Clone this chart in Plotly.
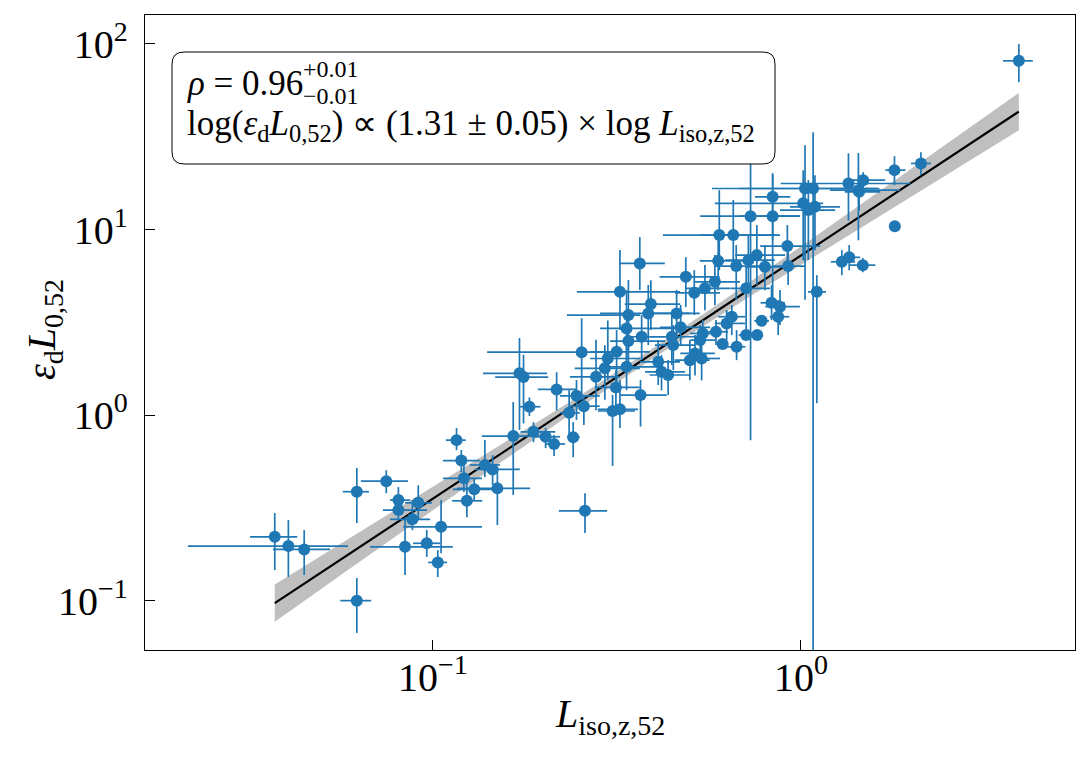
import numpy as np
import plotly.graph_objects as go

# ---- data (log10 values; errors in dex) ----
log_L_iso = [-1.430, -1.393, -1.350, -1.207, -1.207, -1.127, -1.094, -1.094, -1.056, -1.040,
             -1.076, -1.017, -0.978, -0.987, -0.936, -0.923, -0.916, -0.908, -0.888, -0.859,
             -0.838, -0.825, -0.782, -0.765, -0.754, -0.738, -0.727, -0.694, -0.671, -0.664,
             -0.630, -0.619, -0.610, -0.590, -0.587, -0.596, -0.557, -0.533, -0.525, -0.501,
             -0.492, -0.474, -0.469, -0.469, -0.474, -0.503, -0.512, -0.492, -0.436, -0.438,
             -0.408, -0.415, -0.338, -0.327, -0.433, -0.351, -0.347, -0.388, -0.379, -0.361,
             -0.302, -0.288, -0.270, -0.313, -0.290, -0.261, -0.234, -0.222, -0.184, -0.225,
             -0.176, -0.143, -0.120, -0.098, -0.149, -0.137, -0.077, -0.077, -0.037, -0.035,
             0.011, 0.033, 0.006, 0.038, 0.020, 0.043, 0.129, 0.156, 0.158, 0.169,
             0.111, 0.131, 0.168, 0.254, 0.326, 0.255, 0.592, -0.231, -0.202, -0.188,
             -0.149, -0.119, -0.107, -0.080, -0.057, -0.062, -0.213, -0.175, -0.274, -0.267]
log_epsL0 = [-0.656, -0.706, -0.724, -0.413, -1.000, -0.356, -0.458, -0.512, -0.562, -0.473,
             -0.710, -0.691, -0.602, -0.794, -0.135, -0.245, -0.341, -0.462, -0.400, -0.269,
             -0.293, -0.395, -0.113, 0.225, 0.205, 0.045, -0.090, -0.117, -0.156, 0.138,
             0.012, -0.119, 0.104, 0.048, -0.516, 0.339, 0.206, 0.252, 0.305, 0.341,
             0.664, 0.467, 0.539, 0.399, 0.260, 0.149, 0.022, 0.031, 0.108, 0.817,
             0.598, 0.548, 0.548, 0.473, 0.422, 0.422, 0.377, 0.287, 0.233, 0.216,
             0.296, 0.332, 0.305, 0.745, 0.659, 0.683, 0.718, 0.970, 0.970, 0.831,
             0.803, 0.835, 0.862, 0.799, 0.683, 1.072, 1.176, 1.072, 0.911, 0.803,
             1.221, 1.221, 1.141, 1.122, 1.105, 0.664, 1.248, 1.212, 1.203, 1.266,
             0.826, 0.850, 0.808, 1.320, 1.356, 1.018, 1.909, 0.449, 0.494, 0.530,
             0.431, 0.431, 0.508, 0.605, 0.584, 0.530, 0.383, 0.368, 0.404, 0.440]
err_x_minus = [0.067, 0.273, 0.085, 0.038, 0.045, 0.069, 0.023, 0.042, 0.061, 0.036,
               0.095, 0.037, 0.103, 0.026, 0.029, 0.050, 0.057, 0.040, 0.058, 0.041,
               0.048, 0.110, 0.085, 0.099, 0.077, 0.026, 0.035, 0.029, 0.024, 0.051,
               0.025, 0.017, 0.045, 0.038, 0.071, 0.257, 0.071, 0.082, 0.048, 0.072,
               0.117, 0.072, 0.167, 0.050, 0.072, 0.057, 0.040, 0.060, 0.055, 0.054,
               0.071, 0.131, 0.072, 0.056, 0.045, 0.059, 0.050, 0.050, 0.045, 0.050,
               0.041, 0.040, 0.032, 0.071, 0.052, 0.054, 0.054, 0.153, 0.090, 0.050,
               0.058, 0.063, 0.059, 0.054, 0.043, 0.137, 0.048, 0.089, 0.074, 0.044,
               0.253, 0.200, 0.240, 0.068, 0.077, 0.024, 0.184, 0.077, 0.039, 0.050,
               0.030, 0.025, 0.035, 0.025, 0.027, 0.000, 0.043, 0.030, 0.032, 0.037,
               0.020, 0.015, 0.020, 0.030, 0.040, 0.023, 0.015, 0.032, 0.027, 0.034]
err_x_plus = [0.061, 0.162, 0.070, 0.033, 0.039, 0.059, 0.032, 0.078, 0.048, 0.037,
              0.130, 0.036, 0.111, 0.025, 0.025, 0.050, 0.049, 0.042, 0.051, 0.041,
              0.074, 0.089, 0.094, 0.075, 0.067, 0.030, 0.059, 0.039, 0.030, 0.055,
              0.029, 0.018, 0.063, 0.043, 0.060, 0.090, 0.065, 0.095, 0.088, 0.090,
              0.163, 0.146, 0.032, 0.100, 0.091, 0.065, 0.061, 0.049, 0.071, 0.068,
              0.080, 0.114, 0.063, 0.080, 0.063, 0.077, 0.059, 0.059, 0.064, 0.060,
              0.054, 0.054, 0.050, 0.092, 0.070, 0.068, 0.068, 0.157, 0.127, 0.086,
              0.064, 0.072, 0.077, 0.068, 0.065, 0.134, 0.048, 0.074, 0.089, 0.046,
              0.196, 0.180, 0.054, 0.068, 0.073, 0.025, 0.168, 0.113, 0.057, 0.060,
              0.036, 0.030, 0.034, 0.030, 0.027, 0.000, 0.038, 0.033, 0.050, 0.036,
              0.020, 0.015, 0.020, 0.036, 0.054, 0.030, 0.015, 0.024, 0.041, 0.047]
err_y_minus = [0.179, 0.167, 0.138, 0.169, 0.174, 0.065, 0.081, 0.054, 0.058, 0.093,
               0.152, 0.074, 0.142, 0.079, 0.054, 0.062, 0.074, 0.088, 0.058, 0.065,
               0.085, 0.198, 0.318, 0.305, 0.250, 0.050, 0.056, 0.061, 0.065, 0.113,
               0.147, 0.108, 0.130, 0.102, 0.120, 0.259, 0.180, 0.170, 0.118, 0.180,
               0.206, 0.171, 0.189, 0.156, 0.126, 0.123, 0.296, 0.101, 0.170, 0.144,
               0.140, 0.171, 0.117, 0.096, 0.126, 0.153, 0.135, 0.125, 0.100, 0.108,
               0.108, 0.119, 0.118, 0.163, 0.120, 0.118, 0.126, 0.189, 0.162, 0.158,
               0.183, 0.162, 0.162, 0.126, 0.250, 1.207, 0.233, 0.453, 0.129, 0.102,
               0.600, 4.000, 0.307, 0.234, 0.269, 0.600, 0.200, 0.270, 0.100, 0.080,
               0.072, 0.070, 0.038, 0.081, 0.063, 0.000, 0.115, 0.072, 0.090, 0.099,
               0.030, 0.020, 0.030, 0.093, 0.099, 0.099, 0.020, 0.072, 0.081, 0.063]
err_y_plus = [0.128, 0.140, 0.104, 0.128, 0.122, 0.059, 0.070, 0.054, 0.104, 0.095,
              0.160, 0.072, 0.144, 0.066, 0.065, 0.057, 0.072, 0.128, 0.061, 0.135,
              0.077, 0.115, 0.183, 0.190, 0.120, 0.050, 0.052, 0.047, 0.048, 0.093,
              0.122, 0.081, 0.085, 0.059, 0.095, 0.183, 0.200, 0.124, 0.205, 0.117,
              0.225, 0.206, 0.189, 0.113, 0.117, 0.093, 0.086, 0.158, 0.081, 0.142,
              0.129, 0.153, 0.126, 0.120, 0.117, 0.117, 0.108, 0.117, 0.090, 0.081,
              0.108, 0.099, 0.099, 0.106, 0.122, 0.126, 0.144, 0.242, 0.189, 0.112,
              0.113, 0.135, 0.162, 0.117, 0.115, 0.291, 0.128, 0.221, 0.113, 0.086,
              0.233, 0.303, 0.178, 0.170, 0.162, 0.090, 0.163, 0.200, 0.090, 0.043,
              0.063, 0.066, 0.038, 0.075, 0.061, 0.000, 0.090, 0.063, 0.072, 0.063,
              0.030, 0.020, 0.030, 0.095, 0.090, 0.090, 0.020, 0.090, 0.081, 0.072]

# fit parameters (log-log relation)
fit_slope = 1.31
fit_intercept = 0.86
band_sig_a = 0.028
band_sig_b = 0.095
band_pivot = -0.42

x_tick_vals = [0.1, 1.0]
x_tick_text = ["10<sup>\u22121</sup>", "10<sup>0</sup>"]
y_tick_vals = [0.1, 1.0, 10.0, 100.0]
y_tick_text = ["10<sup>\u22121</sup>", "10<sup>0</sup>", "10<sup>1</sup>", "10<sup>2</sup>"]

# ---- derived ----
lx = np.array(log_L_iso)
ly = np.array(log_epsL0)
x = 10 ** lx
y = 10 ** ly
xp = 10 ** (lx + np.array(err_x_plus)) - x
xm = x - 10 ** (lx - np.array(err_x_minus))
yp = 10 ** (ly + np.array(err_y_plus)) - y
ym = y - 10 ** (ly - np.array(err_y_minus))

lgrid = np.linspace(lx.min(), lx.max(), 200)
lfit = fit_intercept + fit_slope * lgrid
hw = np.sqrt(band_sig_a ** 2 + (band_sig_b * (lgrid - band_pivot)) ** 2)

BLUE = "#1f77b4"
FONT = "Liberation Serif"

fig = go.Figure()
fig.add_trace(go.Scatter(
    x=np.concatenate([10 ** lgrid, 10 ** lgrid[::-1]]),
    y=np.concatenate([10 ** (lfit + hw), 10 ** (lfit - hw)[::-1]]),
    fill="toself", fillcolor="rgba(128,128,128,0.5)", line=dict(width=0),
    mode="lines", hoverinfo="skip", showlegend=False))
fig.add_trace(go.Scatter(
    x=10 ** lgrid, y=10 ** lfit, mode="lines",
    line=dict(color="black", width=2.2), showlegend=False))
fig.add_trace(go.Scatter(
    x=x, y=y, mode="markers",
    marker=dict(color=BLUE, size=12, line=dict(width=0)),
    error_x=dict(type="data", symmetric=False, array=xp, arrayminus=xm,
                 color=BLUE, thickness=1.7, width=0),
    error_y=dict(type="data", symmetric=False, array=yp, arrayminus=ym,
                 color=BLUE, thickness=1.7, width=0),
    showlegend=False))

axis_common = dict(
    type="log", showgrid=False, zeroline=False, showline=True, linecolor="black",
    linewidth=1.3, mirror=True, ticks="inside", ticklen=10, tickwidth=1.3,
    tickcolor="black", tickfont=dict(family=FONT, size=40, color="black"))
fig.update_xaxes(range=[-1.7826, 0.7446], tickvals=x_tick_vals, ticktext=x_tick_text,
                 ticklabelstandoff=-8, **axis_common)
fig.update_yaxes(range=[-1.266, 2.156], tickvals=y_tick_vals, ticktext=y_tick_text,
                 ticklabelstandoff=8, **axis_common)

# rounded text box
W, H = 930.0, 635.0
x0, x1 = (172 - 145) / W, (775 - 145) / W
y0, y1 = (650 - 164) / H, (650 - 52) / H
rx, ry = 12 / W, 12 / H
path = (f"M {x0+rx},{y0} L {x1-rx},{y0} Q {x1},{y0} {x1},{y0+ry} "
        f"L {x1},{y1-ry} Q {x1},{y1} {x1-rx},{y1} L {x0+rx},{y1} "
        f"Q {x0},{y1} {x0},{y1-ry} L {x0},{y0+ry} Q {x0},{y0} {x0+rx},{y0} Z")
fig.add_shape(type="path", path=path, xref="paper", yref="paper",
              line=dict(color="black", width=1), fillcolor="rgba(255,255,255,0.85)")

def px(xp_):
    return (xp_ - 145) / W

def py(yp_):
    return (650 - yp_) / H

tf = dict(family=FONT, size=35, color="black")
sf = dict(family=FONT, size=24, color="black")
fig.add_annotation(x=px(185), y=py(83), xref="paper", yref="paper", xanchor="left",
                   yanchor="middle", showarrow=False, font=tf,
                   text="<i>\u03c1</i> = 0.96")
fig.add_annotation(x=px(301), y=py(69), xref="paper", yref="paper", xanchor="left",
                   yanchor="middle", showarrow=False, font=sf, text="+0.01")
fig.add_annotation(x=px(301), y=py(96), xref="paper", yref="paper", xanchor="left",
                   yanchor="middle", showarrow=False, font=sf, text="\u22120.01")
fig.add_annotation(x=px(185), y=py(126), xref="paper", yref="paper", xanchor="left",
                   yanchor="middle", showarrow=False, font=tf,
                   text="log(<i>\u03b5</i><sub>d</sub><i>L</i><sub>0,52</sub>) \u221d "
                        "(1.31 \u00b1 0.05) \u00d7 log <i>L</i><sub>iso,z,52</sub>")

# axis titles
fig.add_annotation(x=0.5, y=py(716), xref="paper", yref="paper", xanchor="center",
                   yanchor="middle", showarrow=False,
                   font=dict(family=FONT, size=40, color="black"),
                   text="<i>L</i><sub>iso,z,52</sub>")
fig.add_annotation(x=px(44), y=py(330), xref="paper", yref="paper", xanchor="center",
                   yanchor="middle", showarrow=False, textangle=-90,
                   font=dict(family=FONT, size=40, color="black"),
                   text="<i>\u03b5</i><sub>d</sub><i>L</i><sub>0,52</sub>")

fig.update_layout(width=1091, height=759, plot_bgcolor="white", paper_bgcolor="white",
                  margin=dict(l=145, r=16, t=15, b=109), showlegend=False)
fig.write_html("out.html")
